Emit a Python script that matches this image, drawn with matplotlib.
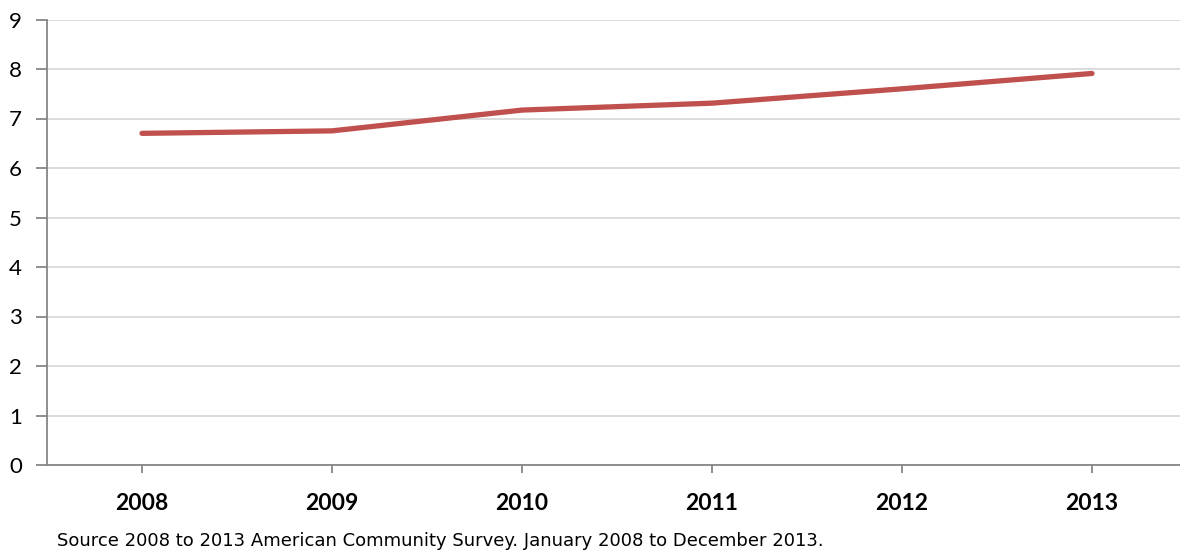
import matplotlib
matplotlib.use("Agg")
import matplotlib.pyplot as plt

# data
years = ["2008", "2009", "2010", "2011", "2012", "2013"]
values = [6.70, 6.75, 7.17, 7.31, 7.60, 7.91]
yticks = [0, 1, 2, 3, 4, 5, 6, 7, 8, 9]

W, H = 1180, 552
fig = plt.figure(figsize=(W / 100, H / 100), dpi=100)
ax = fig.add_axes([47 / W, 1 - 465 / H, (1187 - 47) / W, (465 - 19.5) / H])

x = list(range(len(years)))
ax.plot(x, values, color="#C0504D", lw=3.8, solid_capstyle="round", zorder=3)

ax.set_xlim(-0.5, len(years) - 0.5)
ax.set_ylim(0, 9)
ax.set_yticks(yticks)
ax.set_yticklabels([str(t) for t in yticks], fontsize=16, family=["Lato", "DejaVu Sans"])
ax.set_xticks(x)
ax.set_xticklabels(years, fontsize=16.5, fontweight="bold", family=["Lato", "DejaVu Sans"])

ax.grid(axis="y", color="#D9D9D9", lw=1.3)
ax.set_axisbelow(True)
for s in ["top", "right"]:
    ax.spines[s].set_visible(False)
for s in ["left", "bottom"]:
    ax.spines[s].set_color("#868686")
    ax.spines[s].set_linewidth(1.3)
ax.tick_params(axis="y", length=8, width=1.3, color="#868686", pad=10)
ax.tick_params(axis="x", length=6, width=1.3, color="#868686", pad=14)

fig.text(57 / W, 1 - 541 / H, "Source 2008 to 2013 American Community Survey. January 2008 to December 2013.",
         fontsize=13, family=["Liberation Sans Narrow", "DejaVu Sans"], va="center", ha="left")

fig.savefig("out.png", dpi=100)
